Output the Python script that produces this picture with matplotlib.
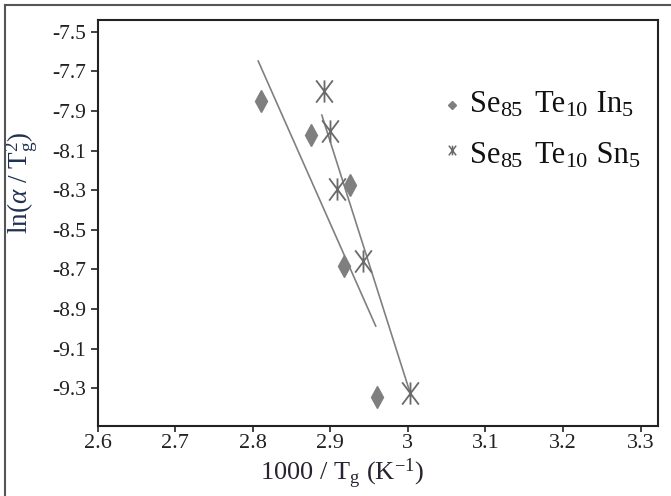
import matplotlib
matplotlib.use("Agg")
import matplotlib.pyplot as plt
from matplotlib.path import Path
from matplotlib.lines import Line2D

plt.rcParams['font.family'] = ['Liberation Serif', 'DejaVu Serif']
plt.rcParams['mathtext.fontset'] = 'custom'
plt.rcParams['mathtext.rm'] = 'Liberation Serif'
plt.rcParams['mathtext.it'] = 'Liberation Serif:italic'

# Data
in_x = [2.810, 2.875, 2.925, 2.917, 2.960]
in_y = [-7.848, -8.021, -8.274, -8.681, -9.346]
sn_x = [2.892, 2.899, 2.909, 2.942, 3.003]
sn_y = [-7.798, -8.000, -8.292, -8.656, -9.322]
in_fit_x = [2.807, 2.9585]
in_fit_y = [-7.648, -8.986]
sn_fit_x = [2.889, 3.003]
sn_fit_y = [-7.921, -9.325]
xticks = [2.6, 2.7, 2.8, 2.9, 3.0, 3.1, 3.2, 3.3]
xticklabels = ['2.6', '2.7', '2.8', '2.9', '3', '3.1', '3.2', '3.3']
yticks = [-7.5, -7.7, -7.9, -8.1, -8.3, -8.5, -8.7, -8.9, -9.1, -9.3]
# legend labels as (main, subscript) pieces
leg_in = [('Se', '85'), (' Te', '10'), (' In', '5')]
leg_sn = [('Se', '85'), (' Te', '10'), (' Sn', '5')]

fig = plt.figure(figsize=(6.71, 4.96), dpi=100)
ax = fig.add_axes([97.6/671, (496-425.7)/496, 560.1/671, 405.7/496])

def ax_x(px):
    return (px - 97.6) / 560.1

def ax_y(py):
    return (425.7 - py) / 405.7

gray = '#7f7f7f'
star = Path([(-0.75, -1), (0.75, 1), (-0.75, 1), (0.75, -1), (0, -1), (0, 1)],
            [Path.MOVETO, Path.LINETO, Path.MOVETO, Path.LINETO, Path.MOVETO, Path.LINETO])

ax.plot(in_fit_x, in_fit_y, color='#808080', lw=1.2)
ax.plot(sn_fit_x, sn_fit_y, color='#808080', lw=1.2)
ax.plot(in_x, in_y, linestyle='none', marker='d', ms=11, color=gray, mec=gray)
ax.plot(sn_x, sn_y, linestyle='none', marker=star, ms=16, mfc='none', mec='#6a6a6a', mew=1.3)

ax.set_xlim(2.6, 3.322)
ax.set_ylim(-9.489, -7.441)
ax.set_xticks(xticks)
ax.set_xticklabels(xticklabels)
ax.set_yticks(yticks)
ax.set_yticklabels([f'{v:.1f}' for v in yticks])
ax.tick_params(axis='x', direction='out', length=4, width=1.2, labelsize=16, colors='#222222', pad=2)
ax.tick_params(axis='y', direction='out', length=5, width=1.2, labelsize=15.5, colors='#222222', pad=3)
for s in ax.spines.values():
    s.set_linewidth(1.5)
    s.set_color('#222222')

ax.set_xlabel(r'1000 / T$_{\rm g}$ (K$^{-1}$)', fontsize=19, color='#2a2230')
ax.xaxis.set_label_coords(ax_x(342), ax_y(456))
ax.set_ylabel(r'ln($\alpha$ / T$_{\rm g}^{2}$)', fontsize=19.5, color='#1f3050')
ax.yaxis.set_label_coords(ax_x(40), ax_y(182.5))

# legend keys
ax.plot([ax_x(451.7)], [ax_y(105)], transform=ax.transAxes, linestyle='none', marker='D', ms=4.5,
        color=gray, clip_on=False)
ax.plot([ax_x(451.7)], [ax_y(150)], transform=ax.transAxes, linestyle='none', marker=star, ms=7,
        mfc='none', mec='#6a6a6a', mew=1.1, clip_on=False)

# legend texts, built from pieces so subscripts keep the reference's size
gaps = [0, 5, 2]
def legend_text(pieces, x0, base_py):
    prev = None
    for (main, sub), gap in zip(pieces, gaps):
        if prev is None:
            t = ax.text(ax_x(x0), ax_y(base_py), main, transform=ax.transAxes, fontsize=22,
                        va='baseline', ha='left', color='#111111')
        else:
            t = ax.annotate(main, xy=(1, ax_y(base_py)), xycoords=(prev, 'axes fraction'),
                            xytext=(gap, 0), textcoords='offset pixels',
                            fontsize=22, va='baseline', ha='left', color='#111111')
        prev = ax.annotate(sub, xy=(1, ax_y(base_py + 4)), xycoords=(t, 'axes fraction'),
                           fontsize=16, va='baseline', ha='left', color='#111111')

legend_text(leg_in, 470, 111.7)
legend_text(leg_sn, 470, 163)

# outer border
fig.add_artist(Line2D([5/671, 5/671], [0, 1 - 5/496], transform=fig.transFigure, color='#555555', lw=1.5))
fig.add_artist(Line2D([5/671, 1], [1 - 5/496, 1 - 5/496], transform=fig.transFigure, color='#555555', lw=1.5))

fig.savefig('out.png', dpi=100)
